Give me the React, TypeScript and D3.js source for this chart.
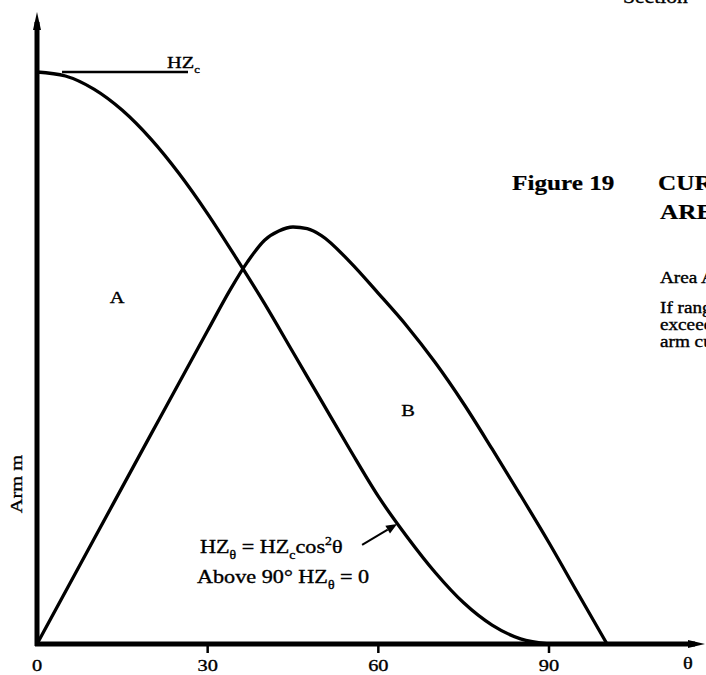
import React, { useEffect, useRef } from 'react'
import * as d3 from 'd3'

// heeling arm curve HZθ (as a fraction of HZc)
const hzTheta = [0, 5, 10, 15, 20, 25, 30, 35, 40, 45, 50, 55, 60, 65, 70, 75, 80, 85, 90]
const hzValue = [1, 0.993, 0.97, 0.933, 0.883, 0.822, 0.752, 0.675, 0.595, 0.51, 0.425, 0.34, 0.258, 0.188, 0.125, 0.072, 0.033, 0.009, 0]

// righting arm curve
const gzTheta = [0, 10, 20, 30, 34, 37, 40, 42.5, 45, 47.5, 50, 55, 60, 65, 70, 75, 80, 85, 90, 95, 100.2]
const gzValue = [0, 0.183, 0.366, 0.548, 0.62, 0.668, 0.706, 0.722, 0.729, 0.726, 0.714, 0.668, 0.613, 0.556, 0.492, 0.42, 0.341, 0.26, 0.177, 0.09, 0]

const xTickValues = [0, 30, 60, 90]
const xTickLabels = ['0', '30', '60', '90']

const W = 706
const H = 675
const serif = '"Liberation Serif", "Times New Roman", serif'
const stretch = 1.2

type Part = { t: string; sub?: boolean; sup?: boolean }

function addText(g: any, px: number, py: number, parts: Part[], size: number, weight = 'normal', anchor = 'start', rotate = 0) {
  const t = g.append('text')
    .attr('transform', `translate(${px},${py}) rotate(${rotate}) scale(${stretch},1)`)
    .attr('font-family', serif)
    .attr('font-size', size)
    .attr('font-weight', weight)
    .attr('text-anchor', anchor)
    .attr('fill', '#000')
    .attr('stroke', '#000')
    .attr('stroke-width', weight === 'bold' ? 0.2 : 0.35)
  let cur = 0
  parts.forEach(p => {
    const want = p.sub ? size * 0.3 : p.sup ? -size * 0.42 : 0
    const ts = t.append('tspan').attr('dy', want - cur).text(p.t)
    if (p.sub || p.sup) ts.attr('font-size', size * 0.62)
    cur = want
  })
  return t
}

export default function App() {
  const svgRef = useRef<SVGSVGElement>(null)

  useEffect(() => {
    const svg = d3.select(svgRef.current)
    svg.selectAll('*').remove()

    const x = d3.scaleLinear().domain([0, 90]).range([37, 549])
    const y = d3.scaleLinear().domain([0, 1]).range([644, 72])

    const g = svg.append('g')

    // curves
    const line = d3.line<[number, number]>()
      .x(d => x(d[0]))
      .y(d => y(d[1]))
      .curve(d3.curveMonotoneX)

    g.append('path')
      .attr('d', line(hzTheta.map((t, i) => [t, hzValue[i]]) as [number, number][]))
      .attr('fill', 'none')
      .attr('stroke', '#000')
      .attr('stroke-width', 3.3)

    g.append('path')
      .attr('d', line(gzTheta.map((t, i) => [t, gzValue[i]]) as [number, number][]))
      .attr('fill', 'none')
      .attr('stroke', '#000')
      .attr('stroke-width', 3.3)

    // axes
    const x0 = x(0), y0 = y(0)
    g.append('line').attr('x1', x0).attr('x2', x0).attr('y1', y0 + 2).attr('y2', 22)
      .attr('stroke', '#000').attr('stroke-width', 5)
    g.append('path').attr('d', `M${x0},12 L${x0 - 4},30 L${x0 + 4},30 Z`).attr('fill', '#000')

    g.append('line').attr('x1', x0 - 2).attr('x2', 695).attr('y1', y0).attr('y2', y0)
      .attr('stroke', '#000').attr('stroke-width', 5)
    g.append('path').attr('d', `M705,${y0} L688,${y0 - 4} L688,${y0 + 4} Z`).attr('fill', '#000')

    xTickValues.forEach((v, i) => {
      if (v > 0) {
        g.append('line').attr('x1', x(v)).attr('x2', x(v)).attr('y1', y0).attr('y2', y0 + 9)
          .attr('stroke', '#000').attr('stroke-width', 2.5)
      }
      addText(g, x(v), 671, [{ t: xTickLabels[i] }], 17, 'normal', 'middle')
    })
    addText(g, 688, 669, [{ t: 'θ' }], 17, 'normal', 'middle')

    addText(g, 22, 484, [{ t: 'Arm m' }], 17, 'normal', 'middle', -90)

    // HZc marker
    g.append('line').attr('x1', x(4.4)).attr('x2', 188).attr('y1', y(1)).attr('y2', y(1))
      .attr('stroke', '#000').attr('stroke-width', 2.5)
    addText(g, 167, 68, [{ t: 'HZ' }, { t: 'c', sub: true }], 17)

    addText(g, 117, 303, [{ t: 'A' }], 17, 'normal', 'middle')
    addText(g, 408, 416, [{ t: 'B' }], 17, 'normal', 'middle')

    // formula and pointer
    addText(g, 200, 553, [{ t: 'HZ' }, { t: 'θ', sub: true }, { t: ' = HZ' }, { t: 'c', sub: true }, { t: 'cos' }, { t: '2', sup: true }, { t: 'θ' }], 18.5)
    addText(g, 197, 583, [{ t: 'Above 90°  HZ' }, { t: 'θ', sub: true }, { t: ' = 0' }], 18.5)

    const tx = x(63.3), ty = y(0.21)
    const sx = tx - 35, sy = ty + 21
    const ang = Math.atan2(ty - sy, tx - sx)
    const ah = 11, aw = 4.5
    const bx = tx - ah * Math.cos(ang), by = ty - ah * Math.sin(ang)
    g.append('line').attr('x1', sx).attr('y1', sy).attr('x2', bx).attr('y2', by)
      .attr('stroke', '#000').attr('stroke-width', 2)
    g.append('path')
      .attr('d', `M${tx},${ty} L${bx - aw * Math.sin(ang)},${by + aw * Math.cos(ang)} L${bx + aw * Math.sin(ang)},${by - aw * Math.cos(ang)} Z`)
      .attr('fill', '#000')

    // page text around the figure
    addText(g, 623, 3, [{ t: 'Section' }], 18)
    addText(g, 512, 190, [{ t: 'Figure  19' }], 21, 'bold')
    addText(g, 658, 190, [{ t: 'CURVES OF' }], 21, 'bold')
    addText(g, 660, 219, [{ t: 'AREAS' }], 21, 'bold')
    addText(g, 660, 283, [{ t: 'Area A' }], 16)
    addText(g, 660, 313, [{ t: 'If range of stability' }], 16)
    addText(g, 660, 330, [{ t: 'exceeds 90°' }], 16)
    addText(g, 660, 347, [{ t: 'arm curve' }], 16)
  }, [])

  return (
    <svg ref={svgRef} width={W} height={H}
      style={{ position: 'absolute', left: 0, top: 0, background: '#fff', display: 'block' }} />
  )
}
